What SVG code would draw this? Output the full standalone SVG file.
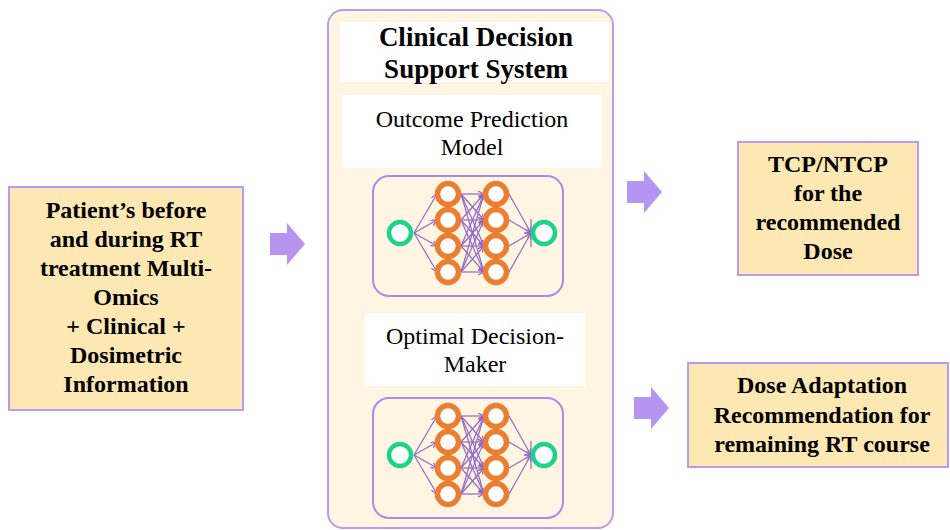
<svg xmlns="http://www.w3.org/2000/svg" xmlns:xlink="http://www.w3.org/1999/xlink" width="950" height="530" viewBox="0 0 950 530">
  <style>
    .box { fill: #FDE8B3; stroke: #B79CF0; stroke-width: 2; }
    .panel { fill: #FEF6E3; stroke: #B79CF0; stroke-width: 2; }
    .netbox { fill: none; stroke: #A98BEA; stroke-width: 2; }
    .label { fill: #FFFFFF; }
    .bold { font-family: "Liberation Serif", "Times New Roman", serif; font-weight: bold; font-size: 24px; fill: #000; text-anchor: middle; }
    .title { font-family: "Liberation Serif", "Times New Roman", serif; font-weight: bold; font-size: 27px; fill: #000; text-anchor: middle; }
    .plain { font-family: "Liberation Serif", "Times New Roman", serif; font-size: 24px; fill: #000; text-anchor: middle; }
    .blk { fill: #B794F0; }
    .edge { stroke: #9466C4; stroke-width: 1.2; fill: none; marker-end: url(#tip); }
    .hid { fill: #FFFFFF; stroke: #ED7D31; stroke-width: 5.5; }
    .io { fill: #FFFFFF; stroke: #1DD38B; stroke-width: 4.5; }
  </style>
  <defs>
    <marker id="tip" markerWidth="8" markerHeight="8" refX="6" refY="3" orient="auto" markerUnits="userSpaceOnUse">
      <path d="M0,0 L6,3 L0,6" fill="none" stroke="#9466C4" stroke-width="1.2"/>
    </marker>
    <path id="blockArrow" d="M0,10 H17 V0 L35,21 L17,42 V32 H0 Z"/>
    <!-- small feed-forward network, origin at the input neuron -->
    <g id="net">
      <rect class="netbox" x="-27" y="-57" width="190" height="120" rx="16"/>
      <g>
        <path class="edge" d="M14,0 L37,-39"/>
        <path class="edge" d="M14,0 L37,-13"/>
        <path class="edge" d="M14,0 L37,13"/>
        <path class="edge" d="M14,0 L37,39"/>
        <path class="edge" d="M61,-39 L84,-39"/>
        <path class="edge" d="M61,-39 L84,-13"/>
        <path class="edge" d="M61,-39 L84,13"/>
        <path class="edge" d="M61,-39 L84,39"/>
        <path class="edge" d="M61,-13 L84,-39"/>
        <path class="edge" d="M61,-13 L84,-13"/>
        <path class="edge" d="M61,-13 L84,13"/>
        <path class="edge" d="M61,-13 L84,39"/>
        <path class="edge" d="M61,13 L84,-39"/>
        <path class="edge" d="M61,13 L84,-13"/>
        <path class="edge" d="M61,13 L84,13"/>
        <path class="edge" d="M61,13 L84,39"/>
        <path class="edge" d="M61,39 L84,-39"/>
        <path class="edge" d="M61,39 L84,-13"/>
        <path class="edge" d="M61,39 L84,13"/>
        <path class="edge" d="M61,39 L84,39"/>
        <path class="edge" d="M109,-39 L131,0"/>
        <path class="edge" d="M109,-13 L131,0"/>
        <path class="edge" d="M109,13 L131,0"/>
        <path class="edge" d="M109,39 L131,0"/>
        <path d="M131,-14 V14" stroke="#9466C4" stroke-width="1.2"/>
      </g>
      <circle class="io" cx="0" cy="0" r="11"/>
      <circle class="hid" cx="48" cy="-39" r="10.5"/>
      <circle class="hid" cx="48" cy="-13" r="10.5"/>
      <circle class="hid" cx="48" cy="13" r="10.5"/>
      <circle class="hid" cx="48" cy="39" r="10.5"/>
      <circle class="hid" cx="96" cy="-39" r="10.5"/>
      <circle class="hid" cx="96" cy="-13" r="10.5"/>
      <circle class="hid" cx="96" cy="13" r="10.5"/>
      <circle class="hid" cx="96" cy="39" r="10.5"/>
      <circle class="io" cx="144" cy="0" r="11"/>
    </g>
  </defs>

  <!-- input data -->
  <g id="patient-data">
    <rect class="box" x="9" y="187" width="234" height="223"/>
    <text class="bold" x="126" y="218">Patient’s before</text>
    <text class="bold" x="126" y="247">and during RT</text>
    <text class="bold" x="126" y="276">treatment Multi-</text>
    <text class="bold" x="126" y="305">Omics</text>
    <text class="bold" x="126" y="334">+ Clinical +</text>
    <text class="bold" x="126" y="363">Dosimetric</text>
    <text class="bold" x="126" y="392">Information</text>
  </g>

  <!-- decision support system -->
  <g id="cdss">
    <rect class="panel" x="328" y="10" width="285" height="518" rx="15"/>
    <rect class="label" x="340" y="22" width="269" height="60"/>
    <text class="title" x="476" y="46">Clinical Decision</text>
    <text class="title" x="476" y="78">Support System</text>

    <g id="outcome-model">
      <rect class="label" x="342" y="95" width="260" height="73"/>
      <text class="plain" x="472" y="127">Outcome Prediction</text>
      <text class="plain" x="472" y="155">Model</text>
      <use xlink:href="#net" transform="translate(400,233)"/>
    </g>

    <g id="decision-maker">
      <rect class="label" x="365" y="313" width="220" height="73"/>
      <text class="plain" x="475" y="344">Optimal Decision-</text>
      <text class="plain" x="475" y="372">Maker</text>
      <use xlink:href="#net" transform="translate(400,455)"/>
    </g>
  </g>

  <!-- outputs -->
  <g id="tcp-ntcp">
    <rect class="box" x="738" y="142" width="180" height="133"/>
    <text class="bold" x="828" y="172">TCP/NTCP</text>
    <text class="bold" x="828" y="201">for the</text>
    <text class="bold" x="828" y="230">recommended</text>
    <text class="bold" x="828" y="259">Dose</text>
  </g>

  <g id="dose-adaptation">
    <rect class="box" x="688" y="363" width="260" height="104"/>
    <text class="bold" x="822" y="393">Dose Adaptation</text>
    <text class="bold" x="822" y="423">Recommendation for</text>
    <text class="bold" x="822" y="452">remaining RT course</text>
  </g>

  <!-- flow arrows -->
  <g id="connectors">
    <use class="blk" xlink:href="#blockArrow" transform="translate(270,223)"/>
    <use class="blk" xlink:href="#blockArrow" transform="translate(627,171)"/>
    <use class="blk" xlink:href="#blockArrow" transform="translate(634,387)"/>
  </g>
</svg>
